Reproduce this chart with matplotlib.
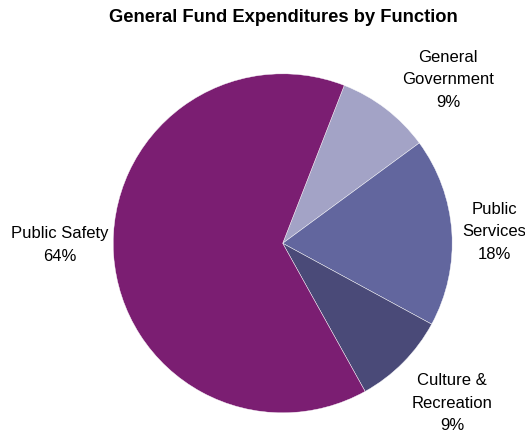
import matplotlib.pyplot as plt
from matplotlib import font_manager

# General fund spending split, clockwise from the top
categories = ["General\nGovernment", "Public\nServices", "Culture &\nRecreation", "Public Safety"]
shares = [9, 18, 9, 64]
colors = ["#a3a3c6", "#62669e", "#4a4a78", "#7b1e72"]

# label anchor points (pixels from top-left)
label_xy = [(448, 80), (494, 232), (452, 403), (60, 245)]

names = {f.name for f in font_manager.fontManager.ttflist}
family = "Liberation Sans Narrow" if "Liberation Sans Narrow" in names else "Liberation Sans"
plt.rcParams["font.family"] = [family, "DejaVu Sans"]

W, H = 525, 434
fig = plt.figure(figsize=(W / 100, H / 100), dpi=100)
ax = fig.add_axes([0, 0, 1, 1])

ax.pie(shares, colors=colors, startangle=68.7, counterclock=False,
       center=(282.7, H - 243.3), radius=169.5,
       wedgeprops=dict(edgecolor="white", linewidth=0.3))

for name, val, (x, y) in zip(categories, shares, label_xy):
    ax.text(x, H - y, f"{name}\n{val}%", ha="center", va="center",
            fontsize=12, linespacing=1.6, color="black")

ax.text(283, H - 18, "General Fund Expenditures by Function", ha="center", va="center",
        fontsize=13.2, fontweight="bold")

ax.set_xlim(0, W)
ax.set_ylim(0, H)
ax.set_aspect("equal")
ax.axis("off")

fig.savefig("out.png", dpi=100, facecolor="white")
